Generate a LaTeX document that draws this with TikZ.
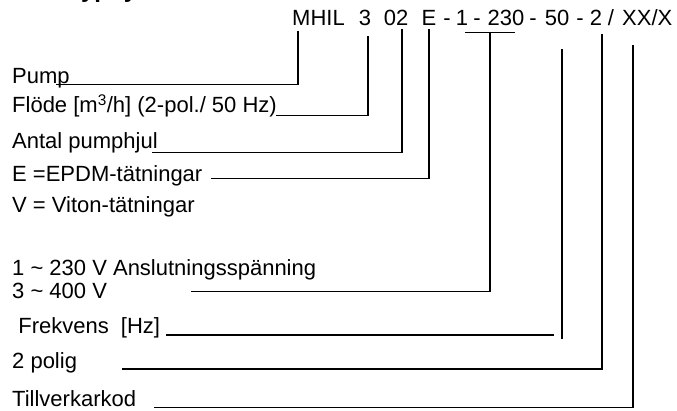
\documentclass[tikz,border=0pt]{standalone}
\usepackage{fontspec}
\setmainfont{Liberation Sans}
\begin{document}
\begin{tikzpicture}[x=1pt,y=-1pt,
  lbl/.style={inner sep=0pt,anchor=base west,font=\fontsize{22}{24}\selectfont},
  tok/.style={inner sep=0pt,anchor=base,font=\fontsize{22}{24}\selectfont},
  ln/.style={line width=1.8pt,line cap=rect}]
\useasboundingbox (0,0) rectangle (677,411);
\begin{scope}
\clip (0,0) rectangle (677,411);
\node[inner sep=0pt,anchor=base west,font=\fontsize{24}{26}\selectfont\bfseries] (title) at (68,-2) {Typnyckel};
\end{scope}
% code tokens
\node[lbl] (mhil) at (292,26) {MHIL};
\node[tok] (t3) at (365,26) {3};
\node[tok] (t02) at (396,26) {02};
\node[tok] (tE) at (429,26) {E};
\node[tok] (d1) at (447,26) {-};
\node[tok] (t1) at (462,26) {1};
\node[tok] (d2) at (477,26) {-};
\node[tok] (t230) at (506,26) {230};
\node[tok] (d3) at (533,26) {-};
\node[tok] (t50) at (557,26) {50};
\node[tok] (d4) at (580,26) {-};
\node[tok] (t2) at (596,26) {2};
\node[tok] (sl) at (611,26) {/};
\node[lbl] (txx) at (622,26) {XX/X};
% labels
\node[lbl] (pump) at (12,84) {Pump};
\node[lbl] (flode) at (12,113) {Flöde [m\textsuperscript{3}/h] (2-pol./ 50 Hz)};
\node[lbl] (antal) at (12,149) {Antal pumphjul};
\node[lbl] (epdm) at (12,182) {E =EPDM-tätningar};
\node[lbl] (viton) at (12,213) {V = Viton-tätningar};
\node[lbl] (volt1) at (12,276) {1 \textasciitilde{} 230 V Anslutningsspänning};
\node[lbl] (volt3) at (12,299) {3 \textasciitilde{} 400 V};
\node[lbl] (frek) at (12,334) {\ Frekvens \ [Hz]};
\node[lbl] (polig) at (12,368) {2 polig};
\node[lbl] (tillv) at (12,406) {Tillverkarkod};
% coordinates
\coordinate (aP) at (57,84.5);   \coordinate (cP) at (298,84.5);  \coordinate (eP) at (298,32);
\coordinate (aF) at (277,115.5); \coordinate (cF) at (368,115.5); \coordinate (eF) at (368,37);
\coordinate (aA) at (153,152.5); \coordinate (cA) at (402,152.5); \coordinate (eA) at (402,30);
\coordinate (aE) at (212,178.5); \coordinate (cE) at (429,178.5); \coordinate (eE) at (429,30);
\coordinate (aV) at (192,291.5); \coordinate (cV) at (490,291.5); \coordinate (eV) at (490,32.5);
\coordinate (uL) at (466,32.5);  \coordinate (uR) at (514,32.5);
\coordinate (aH) at (167,335);   \coordinate (cH) at (553,335);
\coordinate (bH) at (562,338);   \coordinate (eH) at (562,50);
\coordinate (a2) at (123,369);   \coordinate (c2) at (602,369);   \coordinate (e2) at (602,35);
\coordinate (aX) at (155,407.5); \coordinate (cX) at (633,407.5); \coordinate (eX) at (633,46);
% connectors
\draw[ln] (aP) -- (cP) -- (eP);
\draw[ln] (aF) -- (cF) -- (eF);
\draw[ln] (aA) -- (cA) -- (eA);
\draw[ln] (aE) -- (cE) -- (eE);
\draw[ln] (uL) -- (uR);
\draw[ln] (aV) -- (cV) -- (eV);
\draw[ln] (aH) -- (cH);
\draw[ln] (bH) -- (eH);
\draw[ln] (a2) -- (c2) -- (e2);
\draw[ln] (aX) -- (cX) -- (eX);
\end{tikzpicture}
\end{document}
